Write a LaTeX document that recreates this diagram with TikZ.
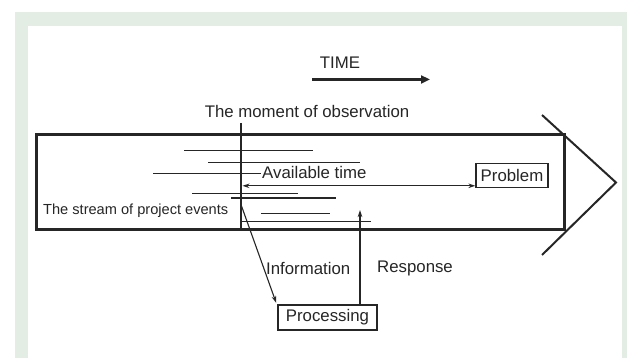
\documentclass[tikz,border=0pt]{standalone}
\usepackage{fontspec}
\setmainfont{Liberation Sans}
\usetikzlibrary{arrows.meta,calc}
\definecolor{bggreen}{HTML}{E4EDE3}
\definecolor{ink}{HTML}{262626}
\tikzset{
  lbl/.style={inner sep=0pt, text=ink, font=\fontsize{16.8}{20}\selectfont},
  smalllbl/.style={inner sep=0pt, text=ink, font=\fontsize{14.6}{17}\selectfont},
  boxed/.style={draw=ink, line width=1.2pt, inner sep=0pt, text=ink, font=\fontsize{16.8}{20}\selectfont},
  thin/.style={draw=ink, line width=1.1pt},
  arr/.style={thin, -{Stealth[length=7pt,width=4.5pt]}},
}
\begin{document}
\begin{tikzpicture}[x=1pt,y=-1pt]
\useasboundingbox (0,0) rectangle (627,358);
\fill[white] (0,0) rectangle (627,358);
\fill[bggreen] (15,12) rectangle (627,358);
\fill[white] (28,26) rectangle (622,358);

% main stream band and chevron
\draw[ink, line width=3pt] (36.5,134.5) rectangle (564,229.5);
\draw[ink, line width=2pt] (542,115) -- (616,182.5) -- (542,255);

% TIME
\node[lbl] (time) at (340,63) {TIME};
\coordinate (tA) at (312,79.5);
\coordinate (tB) at (430,79.5);
\draw[ink, line width=2.5pt, -{Triangle[length=9pt,width=8pt]}] (tA) -- (tB);

% moment of observation
\node[lbl] (moment) at (307,111) {The moment of observation};
\coordinate (obsTop) at (241,123);
\coordinate (obsBot) at (241,230);
\draw[thin] (obsTop) -- (obsBot);

% event lines
\coordinate (e1a) at (184,150.7); \coordinate (e1b) at (313,150.7);
\coordinate (e2a) at (208,162.3); \coordinate (e2b) at (360,162.3);
\coordinate (e3a) at (153,173.3); \coordinate (e3b) at (261,173.3);
\coordinate (e5a) at (192,193.3); \coordinate (e5b) at (298,193.3);
\coordinate (e6a) at (231,198);   \coordinate (e6b) at (336,198);
\coordinate (e7a) at (261,213.3); \coordinate (e7b) at (330,213.3);
\coordinate (e8a) at (241,221.7); \coordinate (e8b) at (371,221.7);
\foreach \i in {1,2,3,5,6,7,8} \draw[thin] (e\i a) -- (e\i b);

\node[lbl, anchor=west] (avail) at (262,172.5) {Available time};
\node[smalllbl, anchor=west] (stream) at (43,211) {The stream of project events};

% problem
\node[boxed, minimum width=72pt, minimum height=24pt] (problem) at (512,175.3) {Problem};
\coordinate (availL) at (242.5,185.8);
\draw[thin, {Stealth[length=7pt,width=4.5pt]}-{Stealth[length=7pt,width=4.5pt]}] (availL) -- (availL -| problem.west);

% processing
\node[boxed, minimum width=99pt, minimum height=25pt] (proc) at (327.5,317.5) {Processing};
\coordinate (infoStart) at (241.5,206);
\draw[arr] (infoStart) -- ($(proc.north west)+(-1.2,-1.5)$);
\coordinate (respTip) at (360,210);
\draw[arr] (respTip |- proc.north) -- (respTip);

\node[lbl, anchor=west] (info) at (266,268) {Information};
\node[lbl, anchor=west] (resp) at (377,268) {Response};
\end{tikzpicture}
\end{document}
